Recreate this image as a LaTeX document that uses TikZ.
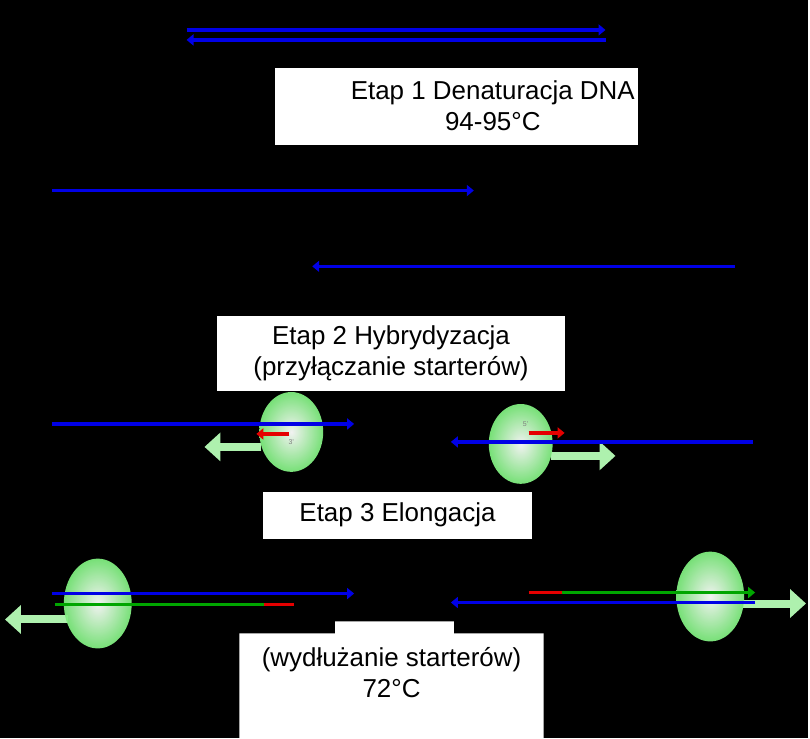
\documentclass[tikz,border=0pt]{standalone}
\usepackage{fontspec}
\setmainfont{Liberation Sans}
\usetikzlibrary{arrows.meta,shadings}
\definecolor{dnablue}{RGB}{0,0,230}
\definecolor{pol}{RGB}{140,235,140}
\tikzset{
strand/.style={dnablue,line width=3.4pt},
primer/.style={red!90!black,line width=3.4pt},
newdna/.style={green!65!black,line width=3.4pt},
tip/.style={-{Triangle[length=7pt,width=11pt]}},
label/.style={fill=white,font=\fontsize{26}{31}\selectfont,align=center,inner sep=0pt},
fat/.style={line width=8pt,pol!70!white,-{Triangle[length=16pt,width=28pt]}}
}
\newcommand{\enzyme}[4]{\shade[inner color=white,outer color=pol!90!green,opacity=.95] (#1,#2) ellipse ({#3} and {#4});}
\begin{document}
\begin{tikzpicture}[x=1pt,y=-1pt]
\fill[black] (0,0) rectangle (810,740);

% etap 1
\coordinate (a1) at (187,30); \coordinate (a2) at (607,30);
\coordinate (b1) at (607,40); \coordinate (b2) at (187,40);
\draw[strand,tip] (a1)--(a2);
\draw[strand,tip] (b1)--(b2);
\fill[white] (276,68) rectangle (640,145);
\node[label] (etap1) at (494,106) {Etap 1 Denaturacja DNA\\94-95\textdegree C};

\coordinate (c1) at (52,191); \coordinate (c2) at (475,191);
\coordinate (d1) at (737,267); \coordinate (d2) at (313,267);
\draw[strand,tip] (c1)--(c2);
\draw[strand,tip] (d1)--(d2);

% etap 2
\fill[white] (218,317) rectangle (566,392);
\node[label] (etap2) at (392,354.5) {Etap 2 Hybrydyzacja\\(przyłączanie starterów)};

\coordinate (e1) at (262,448); \coordinate (e2) at (205,448);
\draw[fat] (e1)--(e2);
\enzyme{292}{433}{32}{40}
\coordinate (f1) at (52,425); \coordinate (f2) at (355,425);
\draw[strand,tip] (f1)--(f2);
\coordinate (g1) at (290,435); \coordinate (g2) at (257,435);
\draw[primer,tip] (g1)--(g2);
\node[font=\scriptsize,text=gray] (p3) at (292,443) {3'};

\coordinate (h1) at (552,457); \coordinate (h2) at (617,457);
\draw[fat] (h1)--(h2);
\enzyme{522}{445}{32}{40}
\coordinate (i1) at (755,443); \coordinate (i2) at (452,443);
\draw[strand,tip] (i1)--(i2);
\coordinate (j1) at (530,434); \coordinate (j2) at (566,434);
\draw[primer,tip] (j1)--(j2);
\node[font=\scriptsize,text=gray] (p5) at (527,425) {5'};

% etap 3
\fill[white] (264,493) rectangle (533,540);
\node[label] (etap3) at (398.5,516.5) {Etap 3 Elongacja};

\coordinate (k1) at (68,621); \coordinate (k2) at (5,621);
\draw[fat] (k1)--(k2);
\enzyme{98}{605}{34}{45}
\coordinate (l1) at (52,595); \coordinate (l2) at (355,595);
\draw[strand,tip] (l1)--(l2);
\coordinate (m1) at (55,606); \coordinate (m2) at (265,606); \coordinate (m3) at (295,606);
\draw[newdna] (m1)--(m2);
\draw[primer] (m2)--(m3);

\coordinate (n1) at (745,605); \coordinate (n2) at (808,605);
\draw[fat] (n1)--(n2);
\enzyme{712}{598}{34}{45}
\coordinate (o1) at (530,594); \coordinate (o2) at (563,594); \coordinate (o3) at (757,594);
\draw[primer] (o1)--(o2);
\draw[newdna,tip] (o2)--(o3);
\coordinate (q1) at (757,604); \coordinate (q2) at (452,604);
\draw[strand,tip] (q1)--(q2);

\fill[white] (240,635) rectangle (545,740) (336,623) rectangle (455,636);
\node[label] (etap4) at (392.5,674) {(wydłużanie starterów)\\72\textdegree C};
\end{tikzpicture}
\end{document}
